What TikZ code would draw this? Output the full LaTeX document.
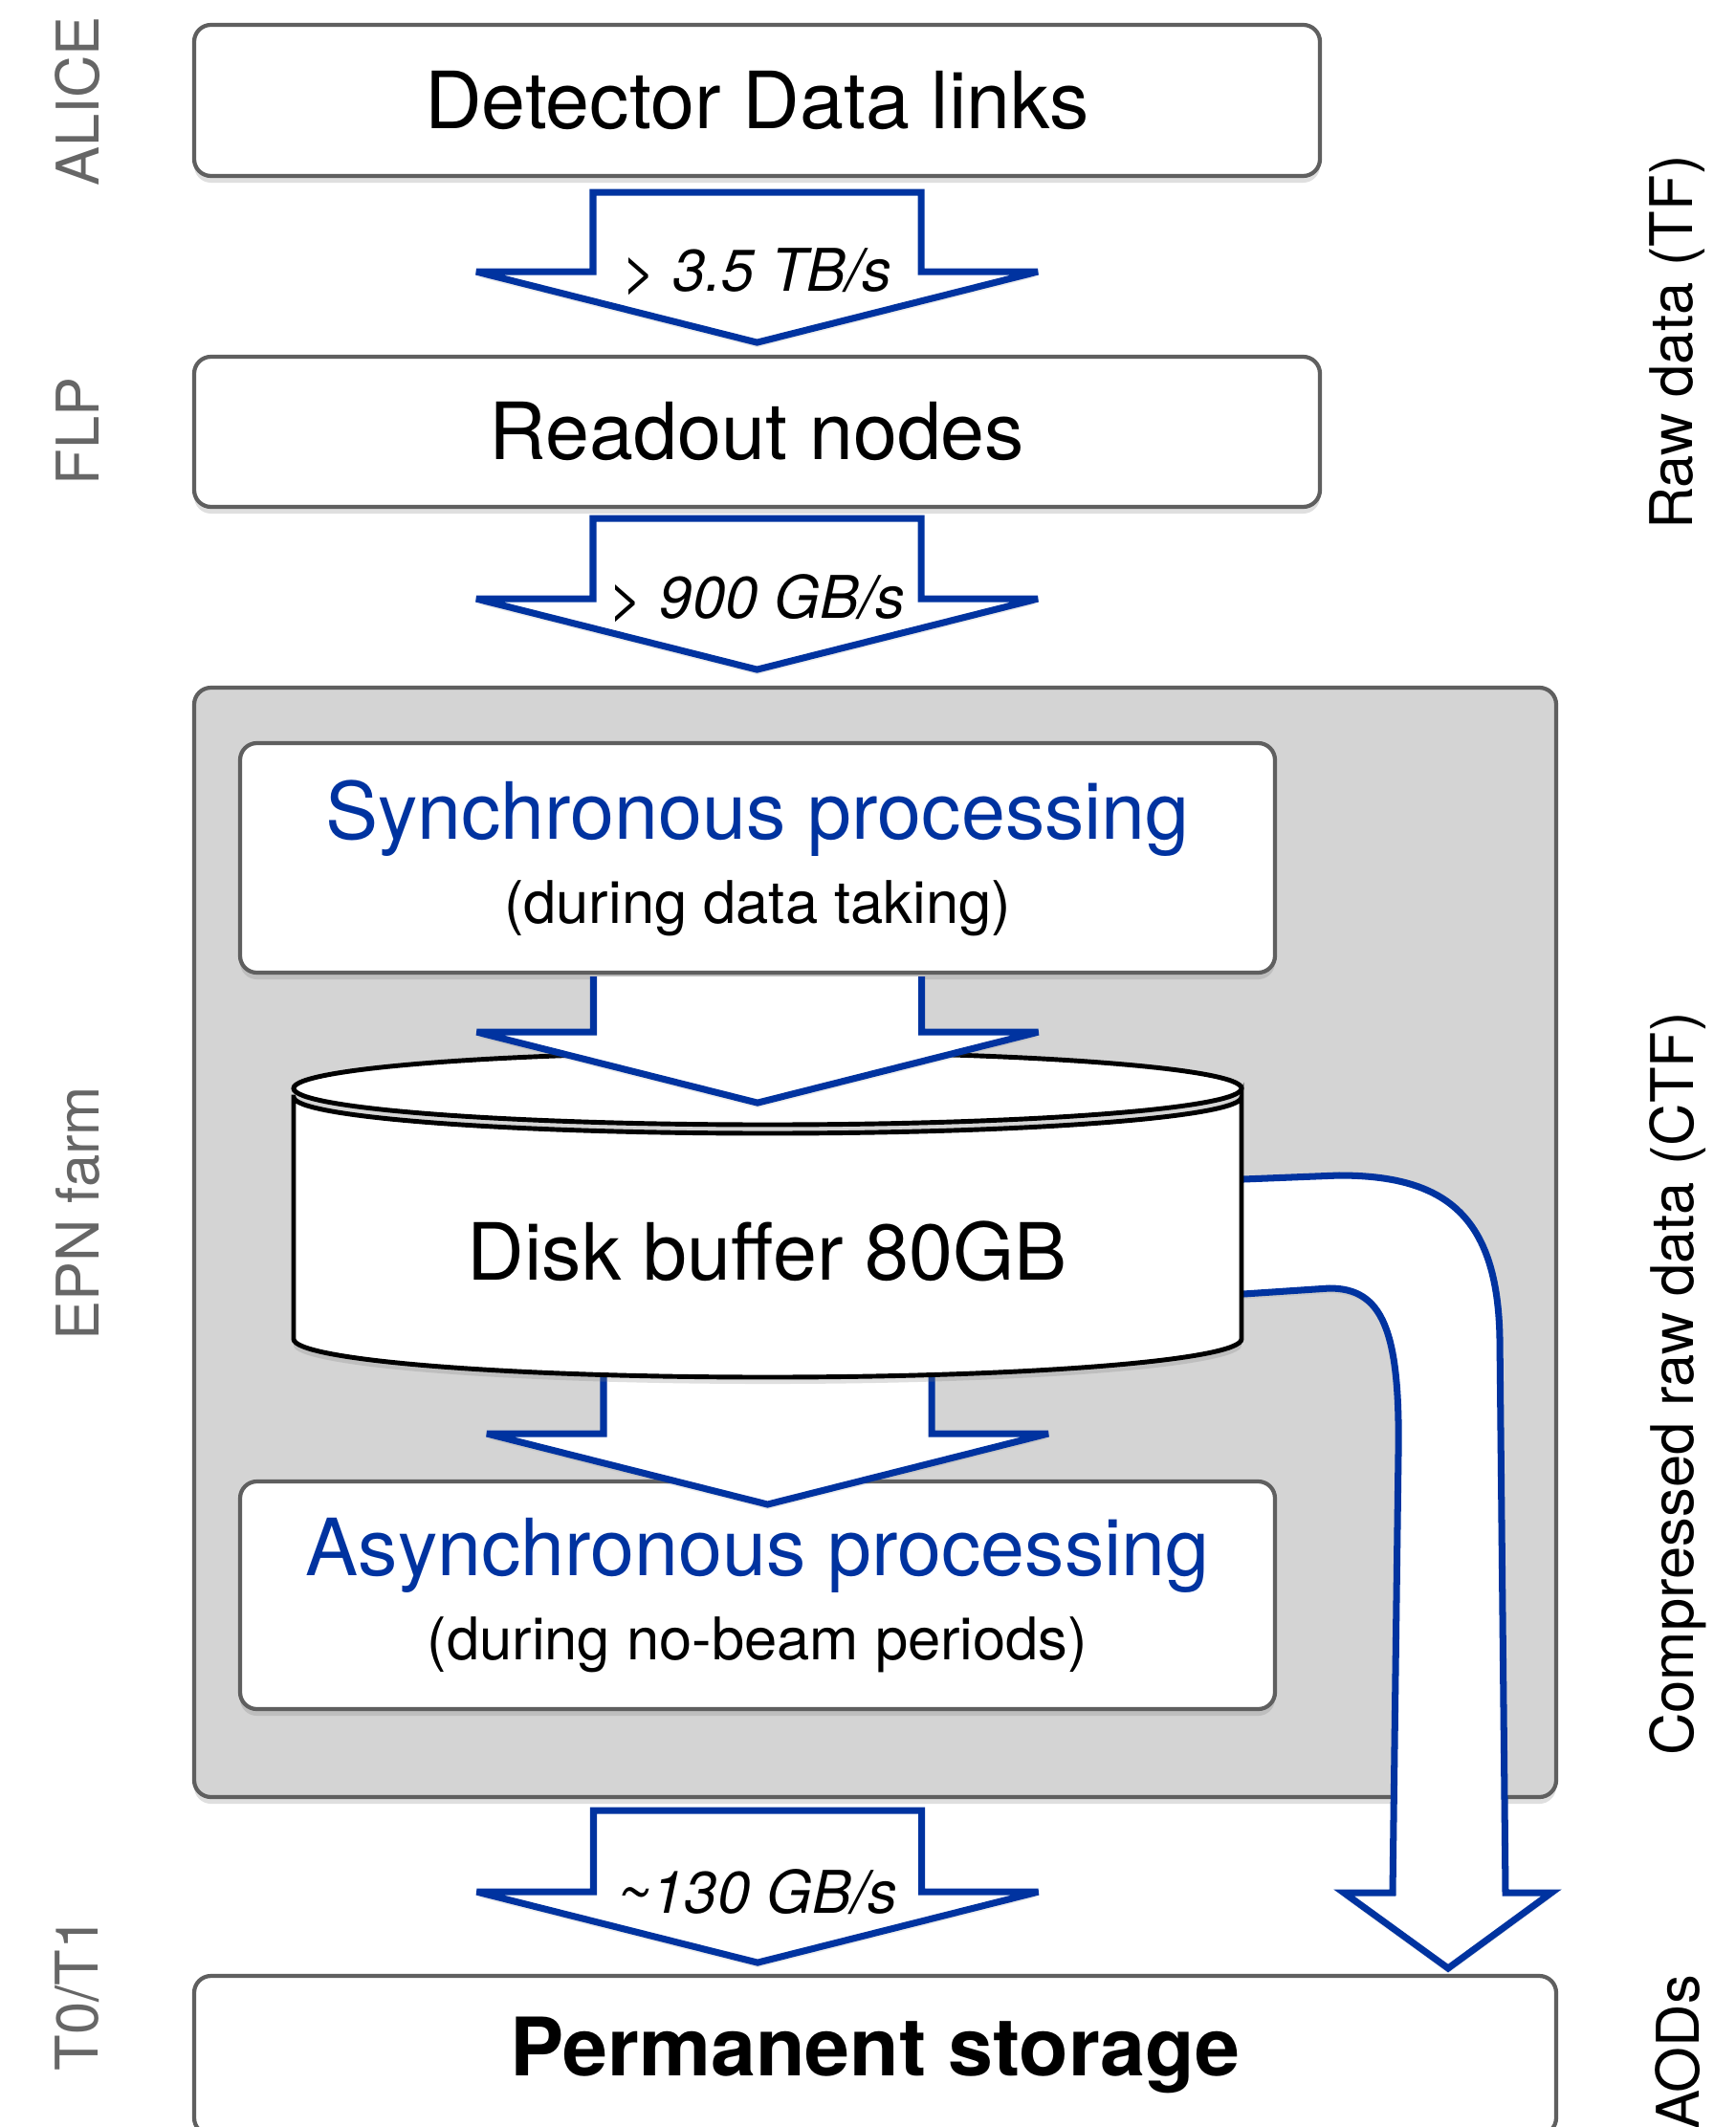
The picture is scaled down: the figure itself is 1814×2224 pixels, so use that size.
\documentclass[tikz,border=0pt]{standalone}
\usepackage{fontspec}
\setmainfont{TeX Gyre Heros}
\usetikzlibrary{calc,shadows}
\definecolor{flowblue}{RGB}{0,51,160}
\definecolor{framegray}{RGB}{95,95,95}
\definecolor{farmgray}{RGB}{212,212,212}
\definecolor{sidegray}{RGB}{102,102,102}

\begin{document}
\begin{tikzpicture}[x=0.1mm,y=-0.1mm,
  stagebox/.style={draw=framegray,line width=1.2pt,fill=white,rounded corners=5pt,
    drop shadow={shadow xshift=0pt,shadow yshift=-2pt,opacity=0.25},
    font=\fontsize{23.5}{25}\selectfont,align=center,inner sep=0pt},
  flow/.style={draw=flowblue,line width=2pt,fill=white,line join=miter,miter limit=4,
    drop shadow={shadow xshift=0pt,shadow yshift=-1.5pt,opacity=0.15}},
  bigarrow/.style={insert path={++(-171.5,0) -- ++(0,#1) -- ++(-122,0) -- ++(293.5,74) -- ++(293.5,-74) -- ++(-122,0) -- ++(0,-#1)}},
  rate/.style={font=\itshape\fontsize{17.5}{20}\selectfont,inner sep=0pt},
  stage/.style={rotate=90,font=\fontsize{17.5}{20}\selectfont,text=sidegray},
  datatype/.style={rotate=90,font=\fontsize{17.5}{20}\selectfont}]
\useasboundingbox (0,0) rectangle (1814,2224);
\clip (0,0) rectangle (1814,2224);

\node[stage] (alice) at (81,106) {ALICE};
\node[stage] (flp) at (81,451) {FLP};
\node[stage] (epnlab) at (81,1269) {EPN farm};
\node[stage] (tier) at (81,2085) {T0/T1};
\node[datatype] (raw) at (1754,358) {Raw data (TF)};
\node[datatype] (ctf) at (1754,1447) {Compressed raw data (CTF)};
\node[datatype] (aod) at (1754,2146) {AODs};

\node[stagebox,minimum width=117.7mm,minimum height=15.8mm] (det) at (791.5,105) {Detector Data links};
\node[stagebox,minimum width=117.7mm,minimum height=15.7mm] (readout) at (791.5,451.5) {Readout nodes};

\coordinate (a1) at ($(det.south)+(0,15)$);
\coordinate (a2) at ($(readout.south)+(0,10)$);
\draw[flow] (a1) [bigarrow=83] -- cycle;
\node[rate] (r1) at ($(a1)+(0,83)$) {> 3.5 TB/s};
\draw[flow] (a2) [bigarrow=84] -- cycle;
\node[rate] (r2) at ($(a2)+(0,84)$) {> 900 GB/s};

\node[stagebox,fill=farmgray,minimum width=142.4mm,minimum height=116mm] (epn) at (915,1299) {};
\node[stagebox,minimum width=108.2mm,minimum height=24mm] (sync) at (792,897)
  {\textcolor{flowblue}{Synchronous processing}\\{\fontsize{17.5}{25}\selectfont(during data taking)}};
\node[stagebox,minimum width=108.2mm,minimum height=23.8mm] (async) at (792,1668)
  {\textcolor{flowblue}{Asynchronous processing}\\{\fontsize{17.5}{25}\selectfont(during no-beam periods)}};

\coordinate (a4) at (802.5,1420);
\draw[flow] (a4) [bigarrow=79];
\draw[flow] (1300,1233) -- (1400,1229) .. controls (1510,1229) and (1566,1270) .. (1568,1400)
  -- (1574,1979) -- (1622,1979) -- (1514,2058) -- (1405,1979) -- (1456,1979) -- (1462,1520)
  .. controls (1464,1390) and (1445,1347) .. (1390,1347) -- (1300,1353);

\draw[line width=1.4pt,fill=white,drop shadow={shadow xshift=0pt,shadow yshift=-2pt,opacity=0.25}]
  (307,1147) -- (307,1400) arc[start angle=180,end angle=0,x radius=495.5,y radius=40]
  -- (1298,1147) arc[start angle=0,end angle=180,x radius=495.5,y radius=38] -- cycle;
\draw[line width=1.4pt,fill=white] (802.5,1138) ellipse [x radius=495.5,y radius=38];
\node[font=\fontsize{23.5}{25}\selectfont] (disk) at (802.5,1308) {Disk buffer 80GB};

\coordinate (a3) at ($(sync.south)+(0,2)$);
\draw[flow] (a3) [bigarrow=58];

\coordinate (a5) at ($(sync.south |- epn.south)+(0,12)$);
\draw[flow] (a5) [bigarrow=85] -- cycle;
\node[rate] (r5) at ($(a5)+(0,85)$) {\textasciitilde130 GB/s};

\node[stagebox,minimum width=142.4mm,minimum height=16.6mm,font=\bfseries\fontsize{24}{26}\selectfont] (perm) at (915,2149) {Permanent storage};
\end{tikzpicture}
\end{document}
